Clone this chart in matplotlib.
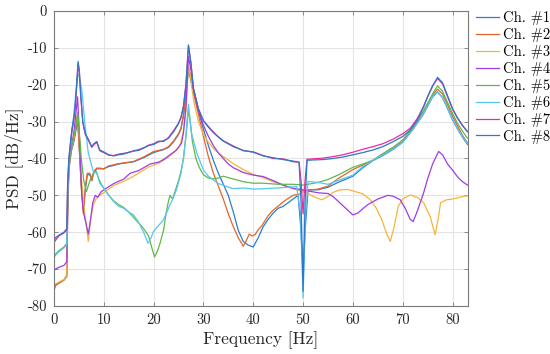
import matplotlib
matplotlib.use("Agg")
import matplotlib.pyplot as plt

plt.rcParams['font.family'] = 'cmr10'
plt.rcParams['axes.formatter.use_mathtext'] = True
plt.rcParams['mathtext.fontset'] = 'cm'

channels = ['Ch. #1', 'Ch. #2', 'Ch. #3', 'Ch. #4', 'Ch. #5', 'Ch. #6', 'Ch. #7', 'Ch. #8']
colors = ['#2a7fd4', '#e8642a', '#f5b53c', '#9e3ce8', '#5fb84a', '#58c6f2', '#ec2c9e', '#2e78c8']

ch1 = [(0,-75.5),(0.3,-74.3),(1,-73.8),(2,-73),(2.6,-72),(2.75,-55),(3.0,-43),(3.5,-38),(4.0,-35.5),(4.4,-32.5),(4.75,-29),(5.0,-35),(5.5,-47),(5.9,-54),(6.3,-48.5),(6.7,-44.5),(7.2,-44.3),(7.6,-46),(8.0,-43.8),(8.6,-42.8),(9.2,-42.8),(10,-42.8),(11,-42.2),(12,-41.9),(13,-41.5),(14,-41.3),(16,-40.9),(18,-39.8),(20,-38.4),(22,-37.6),(23,-37),(24,-35.5),(25,-33.5),(25.5,-32),(26,-28.5),(26.5,-23),(27,-15.5),(27.5,-19),(28,-22),(29,-27),(30,-32),(31,-36.5),(32,-40.5),(33,-44),(34,-47),(35,-50),(36,-54.5),(37,-59.5),(38,-62.5),(39,-63.5),(40,-64),(41,-61.5),(42,-58.5),(43,-56.5),(44,-54.8),(45,-53.5),(46,-53),(47,-52),(48,-51),(49,-50),(49.5,-58),(50,-70),(50.5,-58),(51,-48.5),(53,-48.5),(55,-47.8),(57,-46.5),(60,-44.8),(62,-42.5),(64,-40.6),(66,-39.2),(68,-37.6),(70,-35.6),(72,-32.2),(74,-28.3),(75,-25.8),(76,-23.3),(77,-22),(78,-23.5),(79,-26.5),(80,-29.5),(81,-32),(82,-34.2),(83,-36.2)]

ch2 = [(0,-76),(0.3,-74.5),(1,-73.8),(2,-73),(2.6,-71.5),(2.75,-55),(3.0,-42.5),(3.5,-37.5),(4.0,-35),(4.4,-32),(4.75,-28.5),(5.0,-35),(5.5,-48),(5.9,-55),(6.3,-48),(6.7,-44),(7.2,-44),(7.6,-46),(8.0,-43.5),(8.6,-42.6),(9.2,-42.6),(10,-42.8),(11,-42),(12,-41.7),(13,-41.4),(14,-41.2),(16,-40.8),(18,-39.6),(20,-38.1),(22,-37.5),(23,-36.8),(24,-35.3),(25,-33.3),(25.5,-31.8),(26,-28),(26.5,-22.5),(27,-15.1),(27.5,-18.5),(28,-22),(29,-28),(30,-34),(31,-39.5),(32,-44),(33,-47.5),(34,-51),(35,-55),(36,-58.5),(37,-61.5),(38,-63.8),(38.6,-62.3),(39.2,-60.5),(39.8,-61),(40.4,-60.6),(41,-59.3),(41.7,-58.3),(43,-55.5),(44,-54),(45.4,-52.5),(46,-51.8),(47,-50.8),(48,-50),(49.4,-49.6),(50,-48.8),(51,-48.6),(53,-48.3),(55,-47.5),(57,-45.5),(60,-43),(62,-41.8),(64,-40.5),(66,-38.8),(68,-37.3),(70,-35.4),(72,-32),(74,-28),(75,-25.3),(76,-22.8),(77,-21.2),(78,-22.5),(79,-25.5),(80,-28.5),(81,-31.2),(82,-33.7),(83,-35.8)]

ch3 = [(0,-74.5),(0.3,-74),(1,-73.5),(2,-72.8),(2.6,-71.8),(2.75,-56),(3.0,-43),(3.5,-37.5),(4.0,-34.5),(4.4,-30.5),(4.75,-27.5),(5.0,-32),(5.5,-45),(6.0,-53),(6.5,-58),(6.9,-62.5),(7.3,-57.5),(7.8,-53),(8.5,-50.8),(9.5,-49.7),(10,-49.3),(11,-48.3),(12,-47.3),(14,-46.2),(16,-44.8),(17,-44),(19,-42.3),(21,-41.3),(22,-40.5),(23,-39.6),(24,-38.5),(25,-37.2),(25.5,-35.5),(26,-32.5),(26.5,-27),(27,-14.8),(27.5,-18.5),(28,-24),(29,-30),(30,-33.5),(31,-35.6),(32,-37.2),(33,-38.5),(34,-39.5),(35,-40.4),(36,-41.4),(38,-43),(40,-44.3),(42,-45.2),(44,-46.3),(46,-47.3),(48,-48.2),(49,-48.6),(50,-49),(51,-49.4),(52,-50.3),(53.8,-51.2),(55,-50.3),(56,-49.2),(57.4,-48.5),(59,-48.4),(60,-48.8),(62,-49.6),(63.5,-51.2),(64.7,-53.5),(65.8,-56.6),(66.8,-60.5),(67.5,-62.5),(68.2,-59),(69.1,-53),(70,-51),(71.5,-49.9),(73,-50.6),(74.2,-52),(75.5,-55.7),(76.5,-60.7),(77.1,-56.5),(77.6,-52),(78.8,-51.2),(80,-51),(81.5,-50.5),(83,-50.1)]

ch4 = [(0,-70.5),(0.3,-70),(1,-69.5),(2,-69),(2.6,-68),(2.75,-54),(3.0,-42),(3.5,-37),(4.0,-33),(4.4,-28),(4.75,-23.3),(5.0,-30),(5.3,-40),(5.6,-50),(6.0,-55),(6.5,-58),(6.9,-60.5),(7.3,-57),(7.8,-52),(8.3,-50),(8.8,-50.5),(9.5,-49),(10.6,-48),(12,-46.8),(14,-45.6),(15.3,-44),(17,-43.3),(19.3,-41.5),(21,-41),(22,-40.3),(23.3,-39),(24.5,-37.8),(25.6,-35.9),(26,-33),(26.5,-26),(27,-12.4),(27.5,-16),(28,-21),(29,-27),(30,-31),(31,-34),(32,-36.5),(33,-38.5),(34,-40),(35,-41.5),(36,-42.5),(38,-43.8),(40,-44.5),(42,-44.9),(44,-46),(46,-47.2),(48,-48.1),(50,-48.5),(51,-48.8),(53,-49.3),(55,-49.5),(56,-50.3),(58,-52.8),(60,-55.3),(61,-54.8),(62,-53.6),(63,-52.5),(65,-51),(67,-50),(68,-50.2),(69.5,-51.2),(70.5,-53.5),(71.5,-56.5),(72.1,-57.1),(73,-54),(74.2,-49.3),(75,-45.5),(76,-41.5),(77.2,-38.1),(78,-39),(79,-41.5),(80.2,-43.5),(81,-45),(82,-46.3),(83,-47.2)]

ch5 = [(0,-66.5),(0.3,-66),(1,-65),(2,-64),(2.6,-63),(2.75,-52),(3.0,-42),(3.5,-37),(4.0,-34),(4.4,-31),(4.8,-28),(5.1,-33),(5.5,-40),(6,-46),(6.5,-49),(7,-47),(7.5,-45),(8,-44),(8.5,-43.5),(9,-45.5),(9.5,-47),(10,-48),(11,-50),(12,-51.5),(13,-52.5),(14,-53.3),(15,-54.5),(16,-56),(17,-57.5),(18,-59),(19,-61),(19.6,-64),(20.2,-66.7),(20.8,-65),(21.3,-63),(22,-59.5),(22.5,-55),(23,-51.5),(23.3,-50),(23.8,-51),(24.3,-49),(25,-46),(25.5,-43.5),(26,-40),(26.5,-34),(27,-26.8),(27.4,-30.5),(27.8,-35.5),(28.5,-40),(29.2,-42.5),(30,-44.4),(31,-45.3),(32,-45.5),(33,-45.3),(34,-44.8),(35,-45.2),(36.7,-45.8),(38,-46.3),(40,-46.7),(42,-46.7),(45,-47),(48,-47),(50,-47.2),(51,-47),(53,-46.5),(55,-45.7),(57,-44.5),(60,-42.4),(62,-41.5),(64,-40.5),(66,-38.7),(68,-37),(70,-35),(72,-31.5),(74,-27.5),(75,-25),(76,-22.5),(77,-20.3),(78,-21.8),(79,-24.8),(80,-27.8),(81,-30.5),(82,-32.6),(83,-34.5)]

ch6 = [(0,-66.8),(0.3,-66.3),(1,-65.3),(2,-64.3),(2.6,-63.3),(2.75,-50),(3.0,-41),(3.5,-34),(4.0,-28),(4.4,-22),(4.8,-17),(5.1,-18),(5.6,-21.4),(6.2,-30.4),(6.9,-38.5),(7.9,-43.5),(8.6,-44),(9.2,-46.7),(10,-48),(11,-50),(12,-51.7),(13,-53),(14,-53.5),(15,-54.5),(16,-55.3),(17,-57.3),(18,-60),(18.9,-63),(19.5,-61.5),(20,-59.7),(21,-58.2),(22,-56.6),(23,-53.5),(24,-50.5),(24.6,-48.5),(25.5,-44),(26,-40),(26.5,-33.5),(27,-25.3),(27.6,-33.1),(28.7,-38.6),(30,-43.1),(31,-44.8),(32,-45.8),(33,-46.8),(34.7,-47.6),(36,-48.2),(38,-48),(40,-48.3),(42,-48.2),(45,-48),(48.7,-47.6),(49.5,-55),(50,-77.8),(50.5,-55),(51,-46.2),(53,-46.5),(55,-47),(57,-46),(60,-44.5),(62,-42.2),(64,-40.5),(66,-39),(68,-37.5),(70,-35.6),(72,-32.2),(74,-28.2),(75,-25.7),(76,-23.2),(77,-21.9),(78,-23.5),(79,-26.5),(80,-29.5),(81,-32),(82,-34),(83,-36)]

ch7 = [(0,-62.8),(1,-61),(2,-60.2),(2.6,-59.3),(2.75,-47.5),(3.0,-40.5),(3.3,-36.5),(3.6,-32.8),(4.0,-29.5),(4.3,-26),(4.6,-20),(4.85,-14.5),(5.1,-16.5),(5.4,-23.5),(5.8,-30.3),(6.3,-33.5),(7.0,-35.3),(7.6,-37),(8.0,-36.3),(8.6,-35.6),(9.2,-37.9),(10,-38.4),(11,-39.1),(12,-39.2),(13,-38.8),(14,-38.6),(15,-38.4),(16,-37.9),(17,-37.6),(18,-37.1),(19,-36.4),(20,-36),(21,-35.3),(22,-35.4),(23,-34.3),(24,-32.5),(25,-30.4),(25.5,-28.8),(26,-25.8),(26.5,-20),(27,-9.5),(27.5,-14.3),(28,-21.2),(29,-26.6),(30,-29.7),(31,-31.3),(32,-32.8),(33,-34.1),(34,-35.2),(36,-36.6),(38,-37.9),(40,-38.2),(42,-39.2),(44,-40),(46,-40.1),(48,-40.9),(49.2,-41),(49.6,-46),(50,-55),(50.4,-46),(50.8,-40.2),(52,-40.1),(54,-39.9),(56,-39.5),(58,-39),(60,-38.3),(62,-37.5),(64,-36.8),(66,-36),(68,-34.8),(70,-33.3),(71.5,-31.8),(73,-29),(74.2,-25.8),(75,-23.2),(76,-20.3),(77,-18.3),(78,-19.8),(79,-23.2),(80,-26.6),(81,-29.1),(82,-31.1),(83,-32.8)]

ch8 = [(0,-62.5),(0.3,-61.5),(1,-60.8),(2,-60),(2.6,-59),(2.75,-47),(3.0,-40),(3.3,-36),(3.6,-32.2),(4.0,-29),(4.3,-25.5),(4.6,-19),(4.85,-13.7),(5.1,-16),(5.4,-23),(5.8,-30),(6.3,-33.2),(7.0,-35),(7.6,-36.8),(8.0,-36),(8.6,-35.4),(9.2,-37.7),(10,-38.2),(11,-39),(12,-39.3),(13,-39),(14,-38.8),(15,-38.3),(16,-38),(17,-37.8),(18,-37.2),(19,-36.5),(20,-36.2),(21,-35.5),(22,-35.2),(23,-34.5),(24,-32.8),(25,-30.6),(25.5,-29),(26,-26),(26.5,-20),(27,-9.2),(27.5,-14),(28,-21),(29,-26.5),(30,-29.8),(31,-31.5),(32,-33),(33,-34.2),(34,-35.3),(36,-36.8),(38,-37.8),(40,-38.3),(42,-39.3),(44,-39.8),(46,-40.3),(48,-40.7),(49.2,-41),(49.6,-52),(50,-76),(50.4,-52),(50.8,-40.5),(52,-40.4),(54,-40.3),(56,-40),(58,-39.6),(60,-39),(62,-38.4),(64,-37.7),(66,-36.8),(68,-35.5),(70,-34),(71.5,-32.3),(73,-29.5),(74.2,-26),(75,-23.3),(76,-20.3),(77,-18),(78,-19.5),(79,-23),(80,-26.5),(81,-29),(82,-31),(83,-32.7)]

series = [ch1, ch2, ch3, ch4, ch5, ch6, ch7, ch8]

xticks = [0, 10, 20, 30, 40, 50, 60, 70, 80]
yticks = [0, -10, -20, -30, -40, -50, -60, -70, -80]

fig = plt.figure(figsize=(5.5, 3.54), dpi=100)
ax = fig.add_axes([0.098, 0.1356, 0.752, 0.8334])

for data, lab, col in zip(series, channels, colors):
    f = [p[0] for p in data]
    v = [p[1] for p in data]
    ax.plot(f, v, color=col, lw=0.9, label=lab)

ax.set_xlim(0, 83)
ax.set_ylim(-80, 0)
ax.set_xticks(xticks)
ax.set_xticklabels([str(t) for t in xticks])
ax.set_yticks(yticks)
ax.set_yticklabels([str(t) for t in yticks])
ax.grid(True, color='#e4e4e4', lw=0.8)
ax.set_axisbelow(True)
for s in ax.spines.values():
    s.set_color('#7a7a7a')
    s.set_linewidth(0.8)
ax.tick_params(direction='in', top=True, right=True, length=3, width=0.6,
               color='#7a7a7a', labelsize=10.5, labelcolor='#262626', pad=5)
ax.set_xlabel('Frequency [Hz]', fontsize=12.5, color='#262626', labelpad=3)
ax.set_ylabel('PSD [dB/Hz]', fontsize=12.5, color='#262626', labelpad=3)

fig.legend(loc='upper left', bbox_to_anchor=(0.855, 0.985), frameon=False,
           fontsize=10.5, handlelength=1.6, handletextpad=0.25, labelspacing=0.2,
           borderaxespad=0)

fig.savefig('out.png', dpi=100)
